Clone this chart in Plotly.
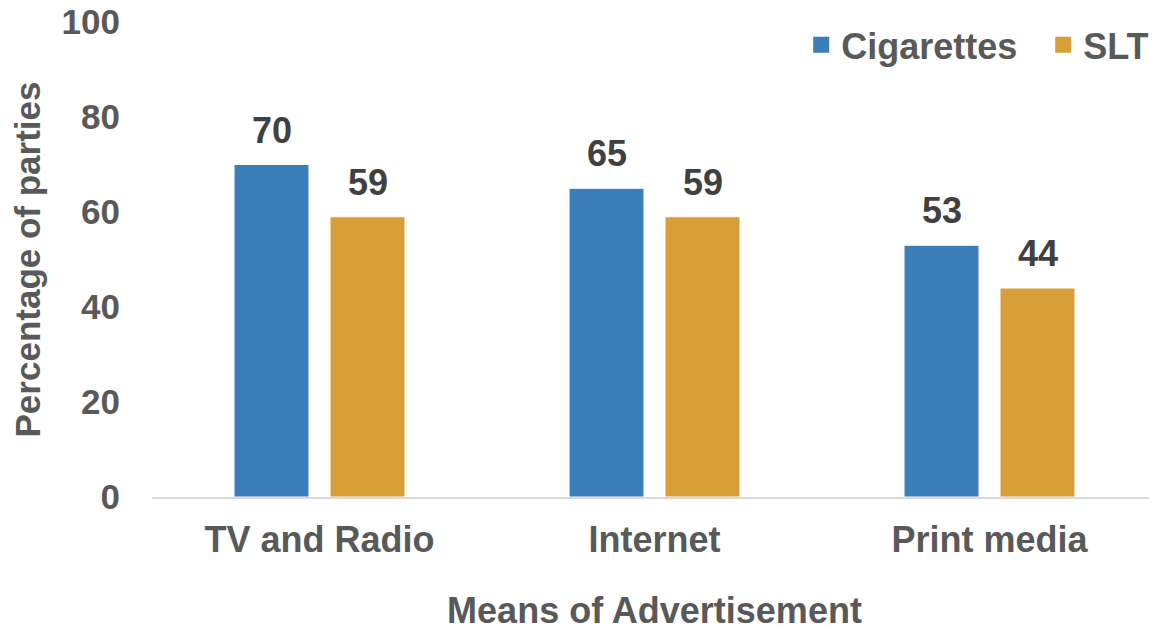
import plotly.graph_objects as go

categories = ["TV and Radio", "Internet", "Print media"]
cigarettes = [70, 65, 53]
slt = [59, 59, 44]
series_names = ["Cigarettes", "SLT"]
y_ticks = [0, 20, 40, 60, 80, 100]

BLUE = "#3A7EBA"
ORANGE = "#D89E37"
FONT = "Liberation Sans, Arial, sans-serif"
GREY = "#595959"
COLORS = [BLUE, ORANGE]

fig = go.Figure()
for name, vals, col in zip(series_names, (cigarettes, slt), COLORS):
    fig.add_trace(go.Bar(x=categories, y=vals, name=name, showlegend=False,
                         marker=dict(color=col, line=dict(color="#FFFFFF", width=1))))
# legend entries with larger square swatches
for name, col in zip(series_names, COLORS):
    fig.add_trace(go.Scatter(x=[None], y=[None], mode="markers", name=f"<b>{name}</b>",
                             marker=dict(symbol="square", size=18, color=col)))

annotations = []
for vals, shift in ((cigarettes, -48), (slt, 48)):
    for c, v in zip(categories, vals):
        annotations.append(dict(x=c, y=v, xref="x", yref="y", text=f"<b>{v}</b>",
                                showarrow=False, xshift=shift, yanchor="bottom", yshift=12,
                                font=dict(family=FONT, size=36, color="#404040")))

fig.update_layout(
    width=1149, height=623,
    margin=dict(l=144, r=0, t=14, b=134, autoexpand=False),
    paper_bgcolor="white", plot_bgcolor="white",
    bargap=0.427, bargroupgap=0.219,
    font=dict(family=FONT, size=36, color=GREY),
    showlegend=True,
    legend=dict(orientation="h", x=0.646, xanchor="left", y=0.952, yanchor="middle",
                font=dict(family=FONT, size=36, color=GREY), bgcolor="rgba(0,0,0,0)",
                itemwidth=30, entrywidth=197, entrywidthmode="pixels"),
    annotations=annotations,
)
fig.update_yaxes(range=[0, 100], tickvals=y_ticks, ticktext=[f"<b>{t}</b>" for t in y_ticks],
                 tickfont=dict(family=FONT, size=35, color=GREY), automargin=False,
                 ticklabeloverflow="allow",
                 showgrid=False, zeroline=False, showline=False, ticks="", ticklabelstandoff=31,
                 title=dict(text="<b>Percentage of parties</b>", standoff=12,
                            font=dict(family=FONT, size=35, color=GREY)))
fig.update_xaxes(showline=True, linecolor="#D9D9D9", linewidth=1.5, ticks="", automargin=False,
                 tickvals=categories, ticktext=[f"<b>{c}</b>" for c in categories],
                 tickfont=dict(family=FONT, size=36, color=GREY), ticklabelstandoff=10,
                 title=dict(text="<b>Means of Advertisement</b>", standoff=41,
                            font=dict(family=FONT, size=36, color=GREY)))

fig.write_html("out.html")
